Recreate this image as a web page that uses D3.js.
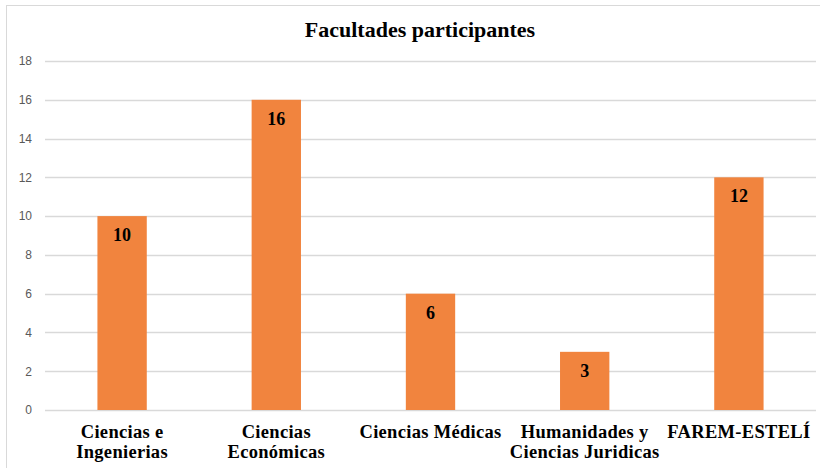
<!DOCTYPE html>
<html lang="es">
<head>
<meta charset="utf-8">
<title>Facultades participantes</title>
<script src="https://cdn.jsdelivr.net/npm/d3@7"></script>
<style>
  body { margin: 0; background: #fff; }
</style>
</head>
<body>
<script>
// datos
var categorias = [
  ["Ciencias e", "Ingenierias"],
  ["Ciencias", "Económicas"],
  ["Ciencias Médicas"],
  ["Humanidades y", "Ciencias Juridicas"],
  ["FAREM-ESTELÍ"]
];
var valores = [10, 16, 6, 3, 12];
var ticksY = [0, 2, 4, 6, 8, 10, 12, 14, 16, 18];

var W = 820, H = 468;
var m = {top: 61, right: 4, bottom: 58, left: 45};
var iw = W - m.left - m.right, ih = H - m.top - m.bottom;

var svg = d3.select("body").append("svg")
    .attr("width", W)
    .attr("height", H);

// borde del grafico
svg.append("rect")
    .attr("x", 6.5).attr("y", 5.5)
    .attr("width", W + 10).attr("height", H - 3)
    .attr("fill", "#fff")
    .attr("stroke", "#d9d9d9");

svg.append("text")
    .attr("x", 420).attr("y", 37)
    .attr("text-anchor", "middle")
    .style("font-family", "'Liberation Serif', 'Times New Roman', serif")
    .style("font-weight", "bold")
    .style("font-size", "22px")
    .text("Facultades participantes");

var g = svg.append("g").attr("transform", "translate(" + m.left + "," + m.top + ")");

var x = d3.scaleBand().domain(d3.range(valores.length)).range([0, iw]).paddingInner(0.68).paddingOuter(0.34);
var y = d3.scaleLinear().domain([0, 18]).range([ih, 0]);

// lineas de cuadricula
g.selectAll(".grid").data(ticksY).enter().append("line")
    .attr("x1", 0).attr("x2", iw)
    .attr("y1", function(d){ return Math.round(y(d)) + 0.5; })
    .attr("y2", function(d){ return Math.round(y(d)) + 0.5; })
    .attr("stroke", "#d9d9d9")
    .attr("stroke-width", 1.3);

var yAxis = g.append("g")
    .call(d3.axisLeft(y).tickValues(ticksY).tickSize(0).tickPadding(13));
yAxis.select(".domain").remove();
yAxis.selectAll("text")
    .style("font-family", "'Liberation Sans', Arial, sans-serif")
    .style("font-size", "12px")
    .attr("fill", "#595959");

g.selectAll(".bar").data(valores).enter().append("rect")
    .attr("x", function(d, i){ return x(i); })
    .attr("y", function(d){ return y(d); })
    .attr("width", x.bandwidth())
    .attr("height", function(d){ return ih - y(d); })
    .attr("fill", "#f1843e");

g.selectAll(".lbl").data(valores).enter().append("text")
    .attr("x", function(d, i){ return x(i) + x.bandwidth() / 2; })
    .attr("y", function(d){ return y(d) + 25; })
    .attr("text-anchor", "middle")
    .style("font-family", "'Liberation Serif', 'Times New Roman', serif")
    .style("font-weight", "bold")
    .style("font-size", "18px")
    .attr("fill", "#000")
    .text(function(d){ return d; });

// etiquetas de categorias
var cat = g.selectAll(".cat").data(categorias).enter().append("text")
    .attr("x", function(d, i){ return x(i) + x.bandwidth() / 2; })
    .attr("y", ih + 28)
    .attr("text-anchor", "middle")
    .style("font-family", "'Liberation Serif', 'Times New Roman', serif")
    .style("font-weight", "bold")
    .style("font-size", "18.5px")
    .style("letter-spacing", "0.3px")
    .attr("fill", "#000");
cat.selectAll("tspan").data(function(d){ return d; }).enter().append("tspan")
    .attr("x", function(){ return d3.select(this.parentNode).attr("x"); })
    .attr("dy", function(d, i){ return i === 0 ? 0 : 20; })
    .text(function(d){ return d; });
</script>
</body>
</html>
